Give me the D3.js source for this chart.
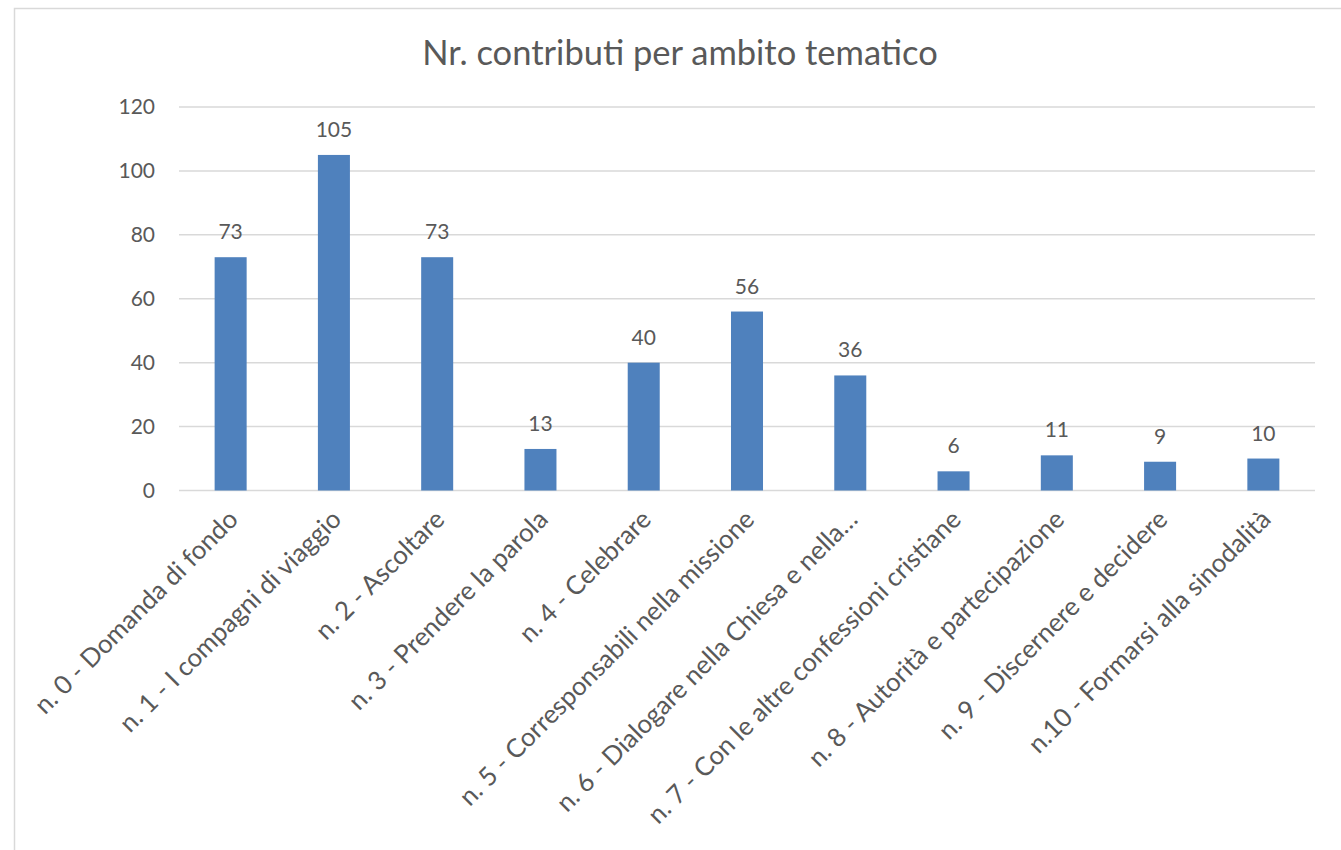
<!DOCTYPE html>
<html>
<head>
<meta charset="utf-8">
<script src="https://cdn.jsdelivr.net/npm/d3@7"></script>
<style>
  body { margin: 0; background: #fff; }
  text { font-family: Lato, "Open Sans", sans-serif; fill: #595959; }
</style>
</head>
<body>
<div id="chart"></div>
<script>
// data
const categories = [
  "n. 0 - Domanda di fondo",
  "n. 1 - I compagni di viaggio",
  "n. 2 - Ascoltare",
  "n. 3 - Prendere la parola",
  "n. 4 - Celebrare",
  "n. 5 - Corresponsabili nella missione",
  "n. 6 - Dialogare nella Chiesa e nella…",
  "n. 7 - Con le altre confessioni cristiane",
  "n. 8 - Autorità e partecipazione",
  "n. 9 - Discernere e decidere",
  "n.10 - Formarsi alla sinodalità"
];
const values = [73, 105, 73, 13, 40, 56, 36, 6, 11, 9, 10];
const yTicks = [0, 20, 40, 60, 80, 100, 120];
const title = "Nr. contributi per ambito tematico";

const BAR_COLOR = "#4f81bd";
const GRID_COLOR = "#d9d9d9";

let width = 1341;
let height = 850;

let svg = d3.select("#chart").append("svg")
    .attr("width", width)
    .attr("height", height);

// chart frame (runs off the right and bottom)
svg.append("rect")
    .attr("x", 14.5).attr("y", 8.5)
    .attr("width", 1400).attr("height", 900)
    .attr("fill", "none")
    .attr("stroke", GRID_COLOR)
    .attr("stroke-width", 1.5);

let x = d3.scaleBand().domain(categories).range([179, 1315]).padding(0);
let y = d3.scaleLinear().domain([0, 120]).range([490.5, 107]);

// title
svg.append("text")
    .attr("x", 680).attr("y", 65)
    .attr("text-anchor", "middle")
    .style("font-size", "34.5px")
    .text(title);

// gridlines
svg.append("g")
   .selectAll("line")
   .data(yTicks)
   .enter()
   .append("line")
   .attr("x1", 179).attr("x2", 1315)
   .attr("y1", d => y(d)).attr("y2", d => y(d))
   .attr("stroke", GRID_COLOR)
   .attr("stroke-width", 1.5);

// y axis labels
let yAxis = d3.axisLeft(y).tickValues(yTicks).tickSize(0).tickPadding(0);
let yg = svg.append("g").attr("transform", "translate(155,0)").call(yAxis);
yg.select(".domain").remove();
yg.selectAll("text").style("font-size", "21px").attr("fill", "#595959")
  .style("font-family", "Lato, sans-serif");

// bars
let barW = x.bandwidth() * 0.31;
svg.append("g")
   .selectAll("rect")
   .data(values)
   .enter()
   .append("rect")
   .attr("x", (d, i) => x(categories[i]) + x.bandwidth() / 2 - barW / 2)
   .attr("y", d => y(d))
   .attr("width", barW)
   .attr("height", d => y(0) - y(d))
   .attr("fill", BAR_COLOR);

// value labels
svg.append("g")
   .selectAll("text")
   .data(values)
   .enter()
   .append("text")
   .attr("x", (d, i) => x(categories[i]) + x.bandwidth() / 2)
   .attr("y", d => y(d) - 18)
   .attr("text-anchor", "middle")
   .style("font-size", "21px")
   .text(d => d);

// category labels, rotated
svg.append("g")
   .selectAll("text")
   .data(categories)
   .enter()
   .append("text")
   .attr("transform", d => "translate(" + (x(d) + x.bandwidth() / 2 + 9) + ",521) rotate(-45)")
   .attr("text-anchor", "end")
   .style("font-size", "25.8px")
   .text(d => d);
</script>
</body>
</html>
